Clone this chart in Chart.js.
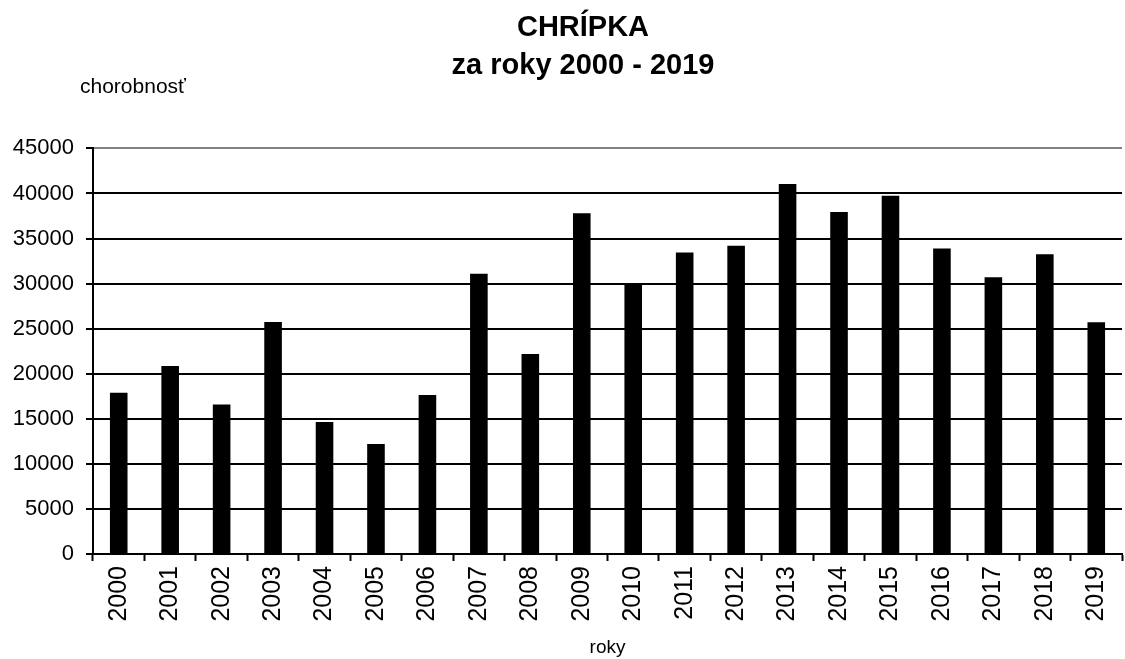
<!DOCTYPE html>
<html>
<head>
<meta charset="utf-8">
<title>Chrípka 2000 - 2019</title>
<script src="https://cdn.jsdelivr.net/npm/chart.js@4"></script>
<style>
    body { margin: 0; background: #ffffff; }
    #fluChart { display: block; }
</style>
</head>
<body>
<canvas id="fluChart" width="1125" height="659"></canvas>
<script>
// data
const years = ['2000', '2001', '2002', '2003', '2004', '2005', '2006', '2007', '2008', '2009',
               '2010', '2011', '2012', '2013', '2014', '2015', '2016', '2017', '2018', '2019'];
const cases = [17900, 20850, 16600, 25750, 14650, 12200, 17650, 31100, 22200, 37800,
               30000, 33450, 34200, 41050, 37950, 39750, 33900, 30700, 33250, 25700];
const titleLines = ['CHRÍPKA', 'za roky 2000 - 2019'];
const yLabel = 'chorobnosť';
const xLabel = 'roky';

const FONT = "'Liberation Sans', Arial, sans-serif";

// small label above the y axis, like in the original sheet
const yLabelPlugin = {
    id: 'yLabel',
    afterLayout(chart) {
        // the y scale box is narrow (title is shifted by left padding),
        // widen it so its tick labels are not clipped
        chart.scales.y.left = 0;
    },
    afterDraw(chart) {
        const ctx = chart.ctx;
        const area = chart.chartArea;
        ctx.save();
        ctx.font = '21px ' + FONT;
        ctx.fillStyle = '#000';
        ctx.textAlign = 'left';
        ctx.textBaseline = 'middle';
        ctx.fillText(yLabel, area.left - 13, area.top - 61);
        ctx.restore();
    }
};

document.addEventListener('DOMContentLoaded', function() {
    const ctx = document.getElementById('fluChart').getContext('2d');
    new Chart(ctx, {
        type: 'bar',
        data: {
            labels: years,
            datasets: [{
                label: 'chorobnosť',
                data: cases,
                backgroundColor: '#000000',
                borderWidth: 0,
                barPercentage: 0.342,
                categoryPercentage: 1
            }]
        },
        options: {
            responsive: false,
            animation: false,
            // left padding moves the centred title a bit right, as in the original
            layout: {
                padding: { left: 44, right: 3, top: 0, bottom: 0 }
            },
            plugins: {
                legend: { display: false },
                tooltip: { enabled: false },
                title: {
                    display: true,
                    text: titleLines,
                    color: '#000',
                    font: { family: FONT, size: 29, weight: 'bold', lineHeight: 1.3 },
                    padding: { top: 9, bottom: 64 }
                }
            },
            scales: {
                x: {
                    offset: true,
                    border: { display: true, color: '#000', width: 2 },
                    grid: {
                        display: true,
                        offset: true,
                        drawOnChartArea: false,
                        drawTicks: true,
                        tickLength: 7,
                        tickColor: '#000',
                        tickWidth: 2
                    },
                    ticks: {
                        color: '#000',
                        font: { family: FONT, size: 25 },
                        minRotation: 90,
                        maxRotation: 90,
                        autoSkip: false,
                        padding: 5
                    },
                    title: {
                        display: true,
                        text: xLabel,
                        color: '#000',
                        font: { family: FONT, size: 19 },
                        padding: { top: 4, bottom: 0 }
                    },
                    afterFit: function(scale) {
                        scale.height = 105;
                        scale.paddingLeft = 0;
                        scale.paddingRight = 0;
                    }
                },
                y: {
                    min: 0,
                    max: 45000,
                    border: { display: true, color: '#000', width: 2 },
                    grid: {
                        color: function(c) {
                            return c.tick && c.tick.value === 45000 ? '#808080' : '#000000';
                        },
                        lineWidth: 2,
                        drawTicks: true,
                        tickLength: 7,
                        tickColor: '#000'
                    },
                    ticks: {
                        stepSize: 5000,
                        color: '#000',
                        font: { family: FONT, size: 22 },
                        padding: 12,
                        callback: function(value) {
                            return String(value);
                        }
                    },
                    afterFit: function(scale) {
                        scale.width = 49;
                    }
                }
            }
        },
        plugins: [yLabelPlugin]
    });
});
</script>
</body>
</html>
